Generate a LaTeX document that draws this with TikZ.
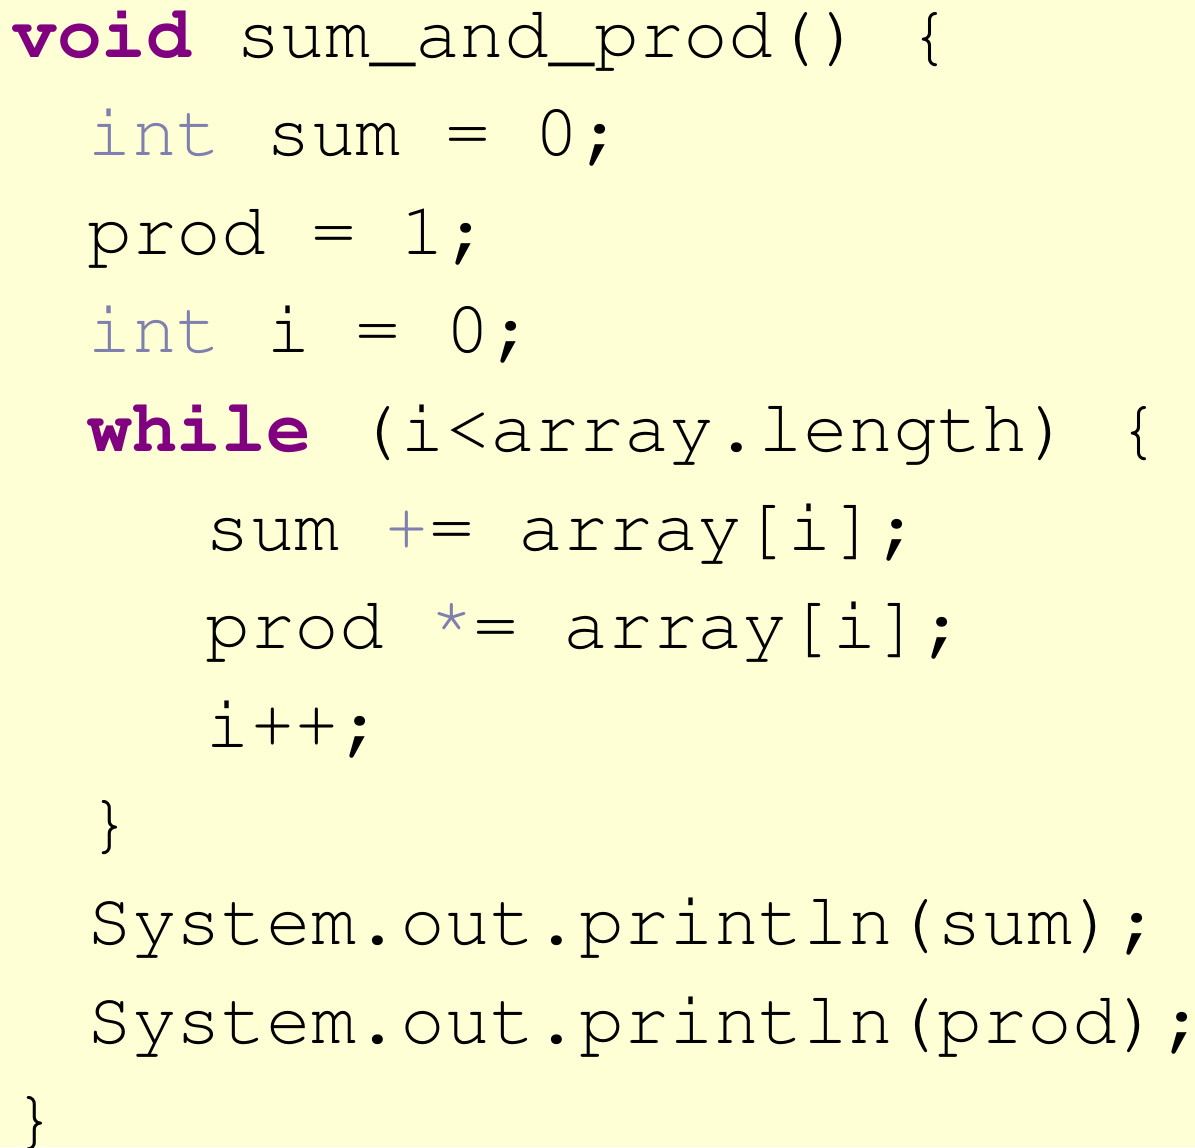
\documentclass[tikz,border=0pt]{standalone}
\usepackage[T1]{fontenc}
\renewcommand{\ttdefault}{pcr}
\usetikzlibrary{positioning}

\definecolor{codebg}{RGB}{255,255,214}
\definecolor{kwpurple}{RGB}{128,0,128}
\definecolor{typegray}{RGB}{128,128,176}

\newcommand{\kw}[1]{\textcolor{kwpurple}{\bfseries #1}}
\newcommand{\ty}[1]{\textcolor{typegray}{#1}}

\begin{document}
\begin{tikzpicture}[x=0.5pt, y=-0.5pt,
		codeline/.style={anchor=base west, inner sep=0pt, font=\fontsize{37.3}{44}\selectfont\ttfamily}]
		
		% Fundo
		\fill[codebg] (0,0) rectangle (1195,1147);
		\useasboundingbox (0,0) rectangle (1195,1147);
		
		% Cabecalho do metodo
		\node[codeline] (l1) at (12, 57) {\kw{void} sum\_and\_prod() \{};
		
		% Declaracoes
		\node[codeline] (l2) at (87, 155.6) {\ty{int} sum = 0;};
		\node[codeline] (l3) at (87, 254.2) {prod = 1;};
		\node[codeline] (l4) at (87, 352.8) {\ty{int} i = 0;};
		
		% Laco
		\node[codeline] (l5) at (87, 451.4) {\kw{while} (i<array.length) \{};
		\node[codeline] (l6) at (205, 550) {sum \ty{+}= array[i];};
		\node[codeline] (l7) at (205, 648.6) {prod \ty{\raisebox{0.18em}{*}}= array[i];};
		\node[codeline] (l8) at (205, 747.2) {i++;};
		\node[codeline] (l9) at (87, 845.8) {\}};
		
		% Saida
		\node[codeline] (l10) at (87, 944.4) {System.out.println(sum);};
		\node[codeline] (l11) at (87, 1043) {System.out.println(prod);};
		\node[codeline] (l12) at (12, 1141.6) {\}};
		
	\end{tikzpicture}
\end{document}
